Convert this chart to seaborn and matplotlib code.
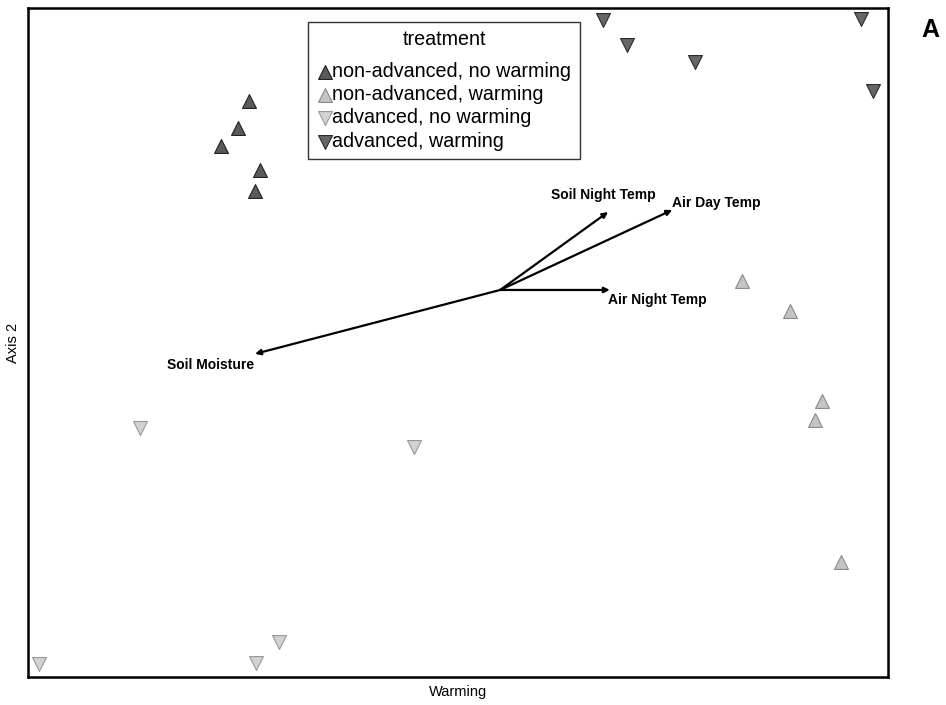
import pandas as pd
import matplotlib.pyplot as plt
import seaborn as sns

# ---- data (ordination scores) ----
treatments = ["non-advanced, no warming", "non-advanced, warming",
              "advanced, no warming", "advanced, warming"]

nanw_x = [-0.486, -0.512, -0.551, -0.460, -0.472]
nanw_y = [0.722, 0.641, 0.587, 0.516, 0.453]
naw_x = [0.660, 0.772, 0.847, 0.830, 0.891]
naw_y = [0.184, 0.094, -0.175, -0.232, -0.656]
anw_x = [-0.740, -0.102, -0.974, -0.470, -0.416]
anw_y = [-0.256, -0.312, -0.961, -0.958, -0.895]
aw_x = [0.337, 0.393, 0.551, 0.937, 0.965]
aw_y = [0.964, 0.889, 0.838, 0.967, 0.752]

# environmental vectors
vec_names = ["Soil Night Temp", "Air Day Temp", "Air Night Temp", "Soil Moisture"]
vec_x = [0.349, 0.498, 0.353, -0.472]
vec_y = [0.390, 0.396, 0.157, -0.034]
origin = (0.098, 0.157)

df = pd.DataFrame({
    "x": nanw_x + naw_x + anw_x + aw_x,
    "y": nanw_y + naw_y + anw_y + aw_y,
    "treatment": [t for t in treatments for _ in range(5)],
})

sns.set_theme(style="white")
plt.rcParams['font.family'] = ['Liberation Sans', 'DejaVu Sans']
plt.rcParams['text.color'] = 'black'
plt.rcParams['axes.labelcolor'] = 'black'

fig = plt.figure(figsize=(9.46, 7.05), dpi=100)
ax = fig.add_axes([0.0296, 0.0397, 0.9091, 0.949])

styles = {
    "non-advanced, no warming": ("^", "#5a5a5a", "#222222"),
    "non-advanced, warming": ("^", "#c4c4c4", "#8a8a8a"),
    "advanced, no warming": ("v", "#d2d2d2", "#999999"),
    "advanced, warming": ("v", "#666666", "#2a2a2a"),
}
for t in treatments:
    m, fc, ec = styles[t]
    sns.scatterplot(data=df[df.treatment == t], x="x", y="y", marker=m,
                    color=fc, edgecolor=ec, linewidth=0.8, s=100, ax=ax, label=t)

# vectors
for name, vx, vy in zip(vec_names, vec_x, vec_y):
    ax.annotate("", xy=(vx, vy), xytext=origin,
                arrowprops=dict(arrowstyle="-|>", color="black", lw=1.6,
                                mutation_scale=8, shrinkA=0, shrinkB=0))
lab_kw = dict(fontsize=10, fontweight="bold")
ax.text(vec_x[0] - 0.01, vec_y[0] + 0.03, vec_names[0], ha="center", va="bottom", **lab_kw)
ax.text(vec_x[1] + 0.0, vec_y[1] + 0.02, vec_names[1], ha="left", va="center", **lab_kw)
ax.text(vec_x[2] - 0.005, vec_y[2] - 0.03, vec_names[2], ha="left", va="center", **lab_kw)
ax.text(vec_x[3] - 0.002, vec_y[3] - 0.033, vec_names[3], ha="right", va="center", **lab_kw)

ax.set_xlim(-1, 1)
ax.set_ylim(-1, 1)
ax.set_xticks([])
ax.set_yticks([])
ax.set_xlabel("Warming", fontsize=10.5, labelpad=6)
ax.set_ylabel("Axis 2", fontsize=10.5, labelpad=6)
for sp in ax.spines.values():
    sp.set_color("black")
    sp.set_linewidth(1.8)

leg = ax.legend(title="treatment", loc="upper left", bbox_to_anchor=(0.326, 0.979),
                borderaxespad=0, fontsize=14.2, title_fontsize=14.2, frameon=True,
                fancybox=False, handletextpad=0.0, handlelength=0.8,
                labelspacing=0.22, borderpad=0.42)
leg._legend_box.sep = 9
leg.get_frame().set_edgecolor("black")
leg.get_frame().set_linewidth(1.0)

fig.text(0.983, 0.957, "A", fontsize=18, fontweight="bold", ha="center", va="center")

fig.savefig("out.png", dpi=100)
